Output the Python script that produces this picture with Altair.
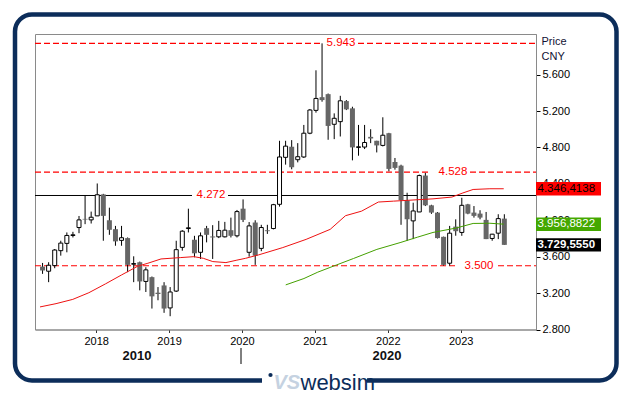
import altair as alt
import pandas as pd

# ---------------- data ----------------
months = (
    [f"2017-{m:02d}" for m in range(4, 13)]
    + [f"{y}-{m:02d}" for y in range(2018, 2023) for m in range(1, 13)]
    + [f"2023-{m:02d}" for m in range(1, 9)]
)
opens = [
    3.491, 3.440, 3.502, 3.666, 3.746, 3.833, 3.920, 4.015, 4.004,
    4.048, 4.284, 4.000, 3.902, 3.779, 3.804, 3.517, 3.539, 3.328, 3.375, 3.204, 3.284,
    3.037, 3.222, 3.702, 3.909, 3.786, 3.648, 3.913, 3.822, 3.818, 3.818, 3.891, 3.829,
    4.127, 3.648, 3.975, 3.691, 3.890, 3.909, 4.175, 4.691, 4.807, 4.665, 4.695, 4.956,
    5.207, 5.352, 5.385, 5.054, 5.083, 5.309, 5.229, 4.800, 4.804, 4.916, 4.873, 4.822,
    4.956, 4.640, 4.600, 4.218, 3.993, 4.091, 4.491, 4.164, 4.084, 3.818, 3.528, 3.930,
    3.866, 4.175, 4.084, 4.073, 4.004, 3.800, 3.858, 4.018,
]
highs = [
    3.531, 3.539, 3.684, 3.775, 3.866, 3.873, 4.047, 4.273, 4.095,
    4.404, 4.290, 4.138, 3.938, 3.938, 3.811, 3.604, 3.546, 3.484, 3.382, 3.266, 3.320,
    3.266, 3.775, 3.891, 4.127, 3.829, 3.866, 3.938, 3.946, 3.993, 3.982, 4.029, 4.113,
    4.229, 3.980, 4.000, 3.950, 3.950, 4.180, 4.873, 4.873, 4.880, 4.847, 5.047, 5.222,
    5.647, 5.943, 5.392, 5.174, 5.367, 5.320, 5.247, 5.047, 5.047, 5.000, 4.873, 5.131,
    4.960, 4.684, 4.610, 4.302, 4.193, 4.502, 4.520, 4.170, 4.090, 3.820, 3.938, 4.010,
    4.247, 4.180, 4.156, 4.110, 4.091, 3.850, 4.066, 4.066,
]
lows = [
    3.411, 3.320, 3.473, 3.611, 3.648, 3.811, 3.858, 3.957, 3.964,
    4.048, 3.775, 3.840, 3.720, 3.720, 3.430, 3.320, 3.230, 3.212, 3.030, 3.121, 2.983,
    2.946, 3.212, 3.666, 3.866, 3.593, 3.575, 3.757, 3.575, 3.804, 3.811, 3.811, 3.811,
    3.980, 3.600, 3.510, 3.660, 3.850, 3.900, 4.150, 4.611, 4.560, 4.636, 4.684, 4.945,
    5.182, 5.302, 4.884, 4.891, 4.920, 5.210, 4.658, 4.709, 4.782, 4.847, 4.745, 4.811,
    4.538, 4.556, 3.950, 3.775, 3.793, 4.090, 4.156, 4.070, 3.800, 3.502, 3.502, 3.830,
    3.829, 4.066, 4.029, 4.010, 3.793, 3.775, 3.793, 3.730,
]
closes = [
    3.448, 3.506, 3.673, 3.749, 3.833, 3.840, 4.004, 4.008, 4.033,
    4.280, 4.048, 3.895, 3.768, 3.808, 3.510, 3.524, 3.328, 3.455, 3.164, 3.190, 3.030,
    3.212, 3.677, 3.880, 3.917, 3.637, 3.829, 3.840, 3.811, 3.888, 3.891, 3.829, 4.095,
    4.004, 3.938, 3.611, 3.920, 3.880, 4.171, 4.695, 4.814, 4.582, 4.698, 4.956, 5.211,
    5.338, 5.320, 5.036, 5.120, 5.312, 5.218, 4.800, 4.807, 4.854, 4.898, 4.822, 4.934,
    4.564, 4.575, 4.222, 4.011, 4.102, 4.491, 4.164, 4.084, 3.804, 3.510, 3.858, 3.880,
    4.164, 4.073, 4.048, 4.029, 3.793, 3.847, 4.018, 3.7296,
]

red_ma_t = [2017.23, 2017.45, 2017.68, 2017.90, 2018.13, 2018.35, 2018.57, 2018.71,
            2018.89, 2019.16, 2019.34, 2019.47, 2019.60, 2019.78, 2019.92, 2020.05,
            2020.23, 2020.56, 2020.88, 2021.21, 2021.42, 2021.64, 2021.87, 2022.08,
            2022.40, 2022.62, 2022.88, 2023.03, 2023.17, 2023.40, 2023.59]
red_ma_v = [3.048, 3.084, 3.131, 3.204, 3.302, 3.400, 3.495, 3.528,
            3.575, 3.590, 3.600, 3.582, 3.546, 3.535, 3.560, 3.582,
            3.620, 3.700, 3.790, 3.900, 4.050, 4.100, 4.200, 4.210,
            4.225, 4.235, 4.255, 4.300, 4.338, 4.346, 4.346]
green_ma_t = [2020.60, 2020.85, 2021.04, 2021.30, 2021.53, 2021.85, 2022.18,
              2022.41, 2022.62, 2022.94, 2023.17, 2023.40, 2023.59]
green_ma_v = [3.29, 3.36, 3.43, 3.51, 3.58, 3.68, 3.757,
              3.815, 3.866, 3.915, 3.965, 3.967, 3.957]

dashed_levels = [5.943, 4.528, 3.500]
solid_levels = [4.272]
last_values = [4.3464138, 3.9568822, 3.7295550]
last_labels = ["4.346,4138", "3.956,8822", "3.729,5550"]
y_ticks = [2.8, 3.2, 3.6, 4.0, 4.4, 4.8, 5.2, 5.6]
x_ticks = [2018, 2019, 2020, 2021, 2022, 2023]
decade_labels = ["2010", "2020"]
unit_labels = ["Price", "CNY"]
brand = "websim"

# ---------------- tables ----------------
def month_to_t(s):
    y, m = s.split("-")
    return int(y) + (int(m) - 1) / 12 + 0.015

df = pd.DataFrame({"month": months, "open": opens, "high": highs,
                   "low": lows, "close": closes})
df["t"] = [month_to_t(m) for m in months]
up = df[df["close"] >= df["open"]]
down = df[df["close"] < df["open"]]

W, H = 501, 295.5
FONT = "Liberation Sans"
NAVY = "#0c2d5a"
RED = "#ff0000"

xs = alt.Scale(domain=[2017.23, 2023.964], nice=False, zero=False)
ys = alt.Scale(domain=[2.8, 6.0458], nice=False, zero=False)
xa = alt.Axis(values=x_ticks, format="d", grid=False, tickSize=3, tickColor="#333333",
              domainColor="#8a8a8a", labelFontSize=11, labelColor="#000000",
              labelPadding=3, labelFont=FONT)
ya = alt.Axis(orient="right", values=y_ticks, format=".3f", grid=False, tickSize=4,
              tickColor="#000000", domainColor="#8a8a8a", labelFontSize=11,
              labelColor="#000000", labelPadding=2, labelFont=FONT)


def X(f):
    return alt.X(f, type="quantitative", scale=xs, axis=xa, title=None)


def Y(f):
    return alt.Y(f, type="quantitative", scale=ys, axis=ya, title=None)


one = pd.DataFrame({"k": [0]})
layers = []

# outer rounded frame
layers.append(alt.Chart(one).mark_rect(fill=None, stroke=NAVY, strokeWidth=4.5,
                                        cornerRadius=17).encode(
    x=alt.value(-20), x2=alt.value(581.5), y=alt.value(-19.5), y2=alt.value(346.5)))

# horizontal reference levels with gaps for labels
gaps = {5.943: (287, 323, 306), 4.528: (395, 435, 418), 3.500: (421, 463, 444)}
for lv in dashed_levels:
    g0, g1, cx = gaps[lv]
    d = pd.DataFrame({"v": [lv], "lab": [f"{lv:.3f}"]})
    layers.append(alt.Chart(d).mark_rule(color=RED, strokeWidth=1.2, strokeDash=[6, 3]).encode(
        y=Y("v"), x=alt.value(0), x2=alt.value(g0)))
    layers.append(alt.Chart(d).mark_rule(color=RED, strokeWidth=1.2, strokeDash=[6, 3]).encode(
        y=Y("v"), x=alt.value(g1), x2=alt.value(W)))
    layers.append(alt.Chart(d).mark_text(color=RED, fontSize=11.5, font=FONT,
                                         align="center", baseline="middle").encode(
        y=Y("v"), x=alt.value(cx), text="lab:N"))
for lv in solid_levels:
    d = pd.DataFrame({"v": [lv], "lab": [f"{lv:.3f}"]})
    layers.append(alt.Chart(d).mark_rule(color="#000000", strokeWidth=1).encode(
        y=Y("v"), x=alt.value(0), x2=alt.value(157)))
    layers.append(alt.Chart(d).mark_rule(color="#000000", strokeWidth=1).encode(
        y=Y("v"), x=alt.value(193), x2=alt.value(W)))
    layers.append(alt.Chart(d).mark_text(color=RED, fontSize=11.5, font=FONT,
                                         align="center", baseline="middle").encode(
        y=Y("v"), x=alt.value(176), text="lab:N"))

# candles
layers.append(alt.Chart(df).mark_rule(color="#000000", strokeWidth=1).encode(
    x=X("t"), y=Y("low"), y2="high"))
layers.append(alt.Chart(down).mark_bar(size=5, color="#666666").encode(
    x=X("t"), y=Y("open"), y2="close"))
layers.append(alt.Chart(up).mark_bar(size=4, fill="#ffffff", stroke="#000000",
                                     strokeWidth=1).encode(
    x=X("t"), y=Y("open"), y2="close"))

# moving averages
red_df = pd.DataFrame({"t": red_ma_t, "v": red_ma_v})
green_df = pd.DataFrame({"t": green_ma_t, "v": green_ma_v})
layers.append(alt.Chart(red_df).mark_line(color="#ee1111", strokeWidth=1).encode(
    x=X("t"), y=Y("v")))
layers.append(alt.Chart(green_df).mark_line(color="#44a000", strokeWidth=1).encode(
    x=X("t"), y=Y("v")))

# last value boxes on the right axis
box_styles = [("#ff0000", "#000000", "normal"),
              ("#44a800", "#ffffff", "normal"),
              ("#000000", "#ffffff", "bold")]
for v, lab, (bg, fg, fw) in zip(last_values, last_labels, box_styles):
    d = pd.DataFrame({"v": [v], "lab": [lab]})
    layers.append(alt.Chart(d).transform_calculate(
        lo="datum.v - 0.074", hi="datum.v + 0.074").mark_rect(color=bg).encode(
        y=Y("lo"), y2="hi", x=alt.value(W), x2=alt.value(566)))
    layers.append(alt.Chart(d).mark_text(color=fg, fontSize=11.5, font=FONT, fontWeight=fw,
                                         align="left", baseline="middle").encode(
        y=Y("v"), x=alt.value(W + 1.5), text="lab:N"))

# unit labels
for i, u in enumerate(unit_labels):
    layers.append(alt.Chart(one).mark_text(color="#111133", fontSize=11, font=FONT,
                                           align="left", baseline="middle").encode(
        x=alt.value(506.5), y=alt.value(7.5 + 15.5 * i), text=alt.value(u)))

# decade labels and separator
for lab, cx in zip(decade_labels, [102, 352]):
    layers.append(alt.Chart(one).mark_text(color="#111111", fontSize=13, font=FONT,
                                           fontWeight="bold", align="center",
                                           baseline="middle").encode(
        x=alt.value(cx), y=alt.value(321.5), text=alt.value(lab)))
layers.append(alt.Chart(one).mark_rule(color="#000000", strokeWidth=1).encode(
    x=alt.value(206), y=alt.value(314), y2=alt.value(330)))

# logo on the bottom border
layers.append(alt.Chart(one).mark_rect(color="#ffffff").encode(
    x=alt.value(227), x2=alt.value(332), y=alt.value(340), y2=alt.value(353)))
layers.append(alt.Chart(one).mark_circle(size=18, color=NAVY, opacity=1).encode(
    x=alt.value(235.5), y=alt.value(341)))
layers.append(alt.Chart(one).mark_text(color="#c5d2e1", fontSize=20, font=FONT,
                                       fontStyle="italic", fontWeight="bold",
                                       align="left", baseline="alphabetic").encode(
    x=alt.value(238.5), y=alt.value(355), text=alt.value("VS")))
layers.append(alt.Chart(one).mark_text(color=NAVY, fontSize=22,
                                       font="Liberation Sans Narrow, Liberation Sans",
                                       align="left", baseline="alphabetic").encode(
    x=alt.value(265.5), y=alt.value(356), text=alt.value(brand)))

chart = alt.layer(*layers).properties(
    width=W, height=H,
    padding={"left": 27, "top": 26, "right": 86, "bottom": 65.5},
    autosize=alt.AutoSizeParams(type="none"),
).configure_view(stroke="#8a8a8a", strokeWidth=1)

chart.save("out.html", embed_options={"renderer": "svg", "actions": False})
